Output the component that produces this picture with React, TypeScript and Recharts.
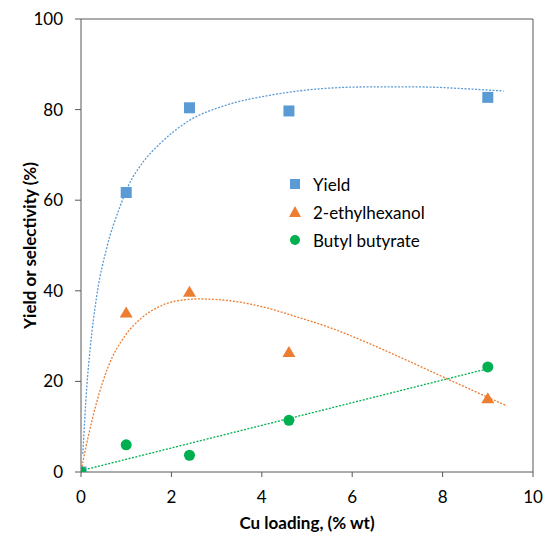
import React from "react";
import {
  ComposedChart,
  Scatter,
  Line,
  XAxis,
  YAxis,
  ReferenceLine,
  Legend,
} from "recharts";

// measured points
const loading = [0, 1, 2.4, 4.6, 9];
const yieldPct = [0, 61.7, 80.4, 79.7, 82.7];
const ethylhexanol = [0, 35.2, 39.8, 26.5, 16.3];
const butylButyrate = [0, 6.0, 3.7, 11.4, 23.2];

// trendlines
const yieldFitX = [0.04, 0.13, 0.2, 0.35, 0.57, 0.86, 1.04, 1.38, 1.75, 2.38, 3.22, 4.2, 5.07, 6.3, 7.5, 8.5, 9.35];
const yieldFitY = [4, 19, 27, 39, 49.5, 58.5, 63, 68.5, 72.5, 77.5, 81, 83.2, 84.4, 85, 85, 84.6, 84.1];
const ethylFitX = [0.01, 0.05, 0.16, 0.35, 0.6, 0.97, 1.34, 1.71, 2.08, 2.6, 3.3, 3.96, 4.85, 5.5, 6.32, 7.2, 8.16, 9.42];
const ethylFitY = [0.4, 2.6, 7.8, 15.5, 23.2, 30, 34, 36.4, 37.7, 38.2, 37.8, 36.6, 34, 31.9, 28.6, 24.7, 20.3, 14.6];
const butylFitX = [0, 9];
const butylFitY = [0.3, 22.8];

const xTicks = [0, 2, 4, 6, 8, 10];
const yTicks = [0, 20, 40, 60, 80, 100];

const BLUE = "#5B9BD5";
const ORANGE = "#ED7D31";
const GREEN = "#00B050";
const AXIS = "#595959";
const FONT = "Lato, 'Open Sans', sans-serif";

const toPoints = (xs: number[], ys: number[]) => xs.map((x, i) => ({ x, y: ys[i] }));

const SquareShape = (props: any) => {
  const { cx, cy } = props;
  return <rect x={cx - 5.5} y={cy - 5.5} width={11} height={11} fill={BLUE} />;
};

const TriangleShape = (props: any) => {
  const { cx, cy } = props;
  return <path d={`M${cx},${cy - 6} L${cx + 6.5},${cy + 5} L${cx - 6.5},${cy + 5} Z`} fill={ORANGE} />;
};

const CircleShape = (props: any) => {
  const { cx, cy } = props;
  return <circle cx={cx} cy={cy} r={5.5} fill={GREEN} />;
};

const legendItems = [
  { name: "Yield", kind: "square" },
  { name: "2-ethylhexanol", kind: "triangle" },
  { name: "Butyl butyrate", kind: "circle" },
];

const LegendContent = () => (
  <div style={{ fontFamily: FONT, fontSize: 17, color: "#000" }}>
    {legendItems.map((item) => (
      <div key={item.name} style={{ display: "flex", alignItems: "center", height: 28 }}>
        <svg width={16} height={16} style={{ marginRight: 10 }}>
          {item.kind === "square" && <rect x={3} y={3} width={10} height={10} fill={BLUE} />}
          {item.kind === "triangle" && <path d="M8,2 L14,13 L2,13 Z" fill={ORANGE} />}
          {item.kind === "circle" && <circle cx={8} cy={8} r={5} fill={GREEN} />}
        </svg>
        <span>{item.name}</span>
      </div>
    ))}
  </div>
);

export default function App() {
  return (
    <div style={{ position: "absolute", left: 0, top: 0, background: "#fff" }}>
      <ComposedChart width={546} height={533} margin={{ top: 19, right: 13, left: 0, bottom: 0 }}>
        <XAxis
          type="number"
          dataKey="x"
          domain={[0, 10]}
          ticks={xTicks}
          allowDataOverflow
          height={61}
          tickSize={5}
          tickMargin={14}
          stroke={AXIS}
          tick={{ fill: "#000", fontSize: 17, fontFamily: FONT }}
          label={{
            value: "Cu loading, (% wt)",
            position: "insideBottom",
            offset: 4,
            style: { fill: "#000", fontSize: 17, fontWeight: 700, fontFamily: FONT },
          }}
        />
        <YAxis
          type="number"
          dataKey="y"
          domain={[0, 100]}
          ticks={yTicks}
          allowDataOverflow
          width={81}
          tickSize={6}
          tickMargin={12}
          stroke={AXIS}
          tick={{ fill: "#000", fontSize: 17, fontFamily: FONT }}
          label={{
            value: "Yield or selectivity (%)",
            angle: -90,
            position: "insideLeft",
            offset: 30,
            style: { fill: "#000", fontSize: 17, fontWeight: 700, fontFamily: FONT, textAnchor: "middle" },
          }}
        />
        <ReferenceLine y={100} stroke={AXIS} strokeWidth={1} />
        <ReferenceLine x={10} stroke={AXIS} strokeWidth={1} />
        <Line
          data={toPoints(yieldFitX, yieldFitY)}
          dataKey="y"
          type="monotone"
          stroke={BLUE}
          strokeWidth={1.3}
          strokeDasharray="2 1.5"
          dot={false}
          activeDot={false}
          legendType="none"
          isAnimationActive={false}
        />
        <Line
          data={toPoints(ethylFitX, ethylFitY)}
          dataKey="y"
          type="monotone"
          stroke={ORANGE}
          strokeWidth={1.3}
          strokeDasharray="2 1.5"
          dot={false}
          activeDot={false}
          legendType="none"
          isAnimationActive={false}
        />
        <Line
          data={toPoints(butylFitX, butylFitY)}
          dataKey="y"
          type="linear"
          stroke={GREEN}
          strokeWidth={1.3}
          strokeDasharray="2 1.5"
          dot={false}
          activeDot={false}
          legendType="none"
          isAnimationActive={false}
        />
        <Scatter name="Yield" data={toPoints(loading, yieldPct)} dataKey="y" shape={SquareShape} isAnimationActive={false} />
        <Scatter name="2-ethylhexanol" data={toPoints(loading, ethylhexanol)} dataKey="y" shape={TriangleShape} isAnimationActive={false} />
        <Scatter name="Butyl butyrate" data={toPoints(loading, butylButyrate)} dataKey="y" shape={CircleShape} isAnimationActive={false} />
        <Legend
          content={<LegendContent />}
          layout="horizontal"
          verticalAlign="middle"
          align="center"
          wrapperStyle={{ position: "absolute", left: 287, top: 170, width: "auto" }}
        />
      </ComposedChart>
    </div>
  );
}
